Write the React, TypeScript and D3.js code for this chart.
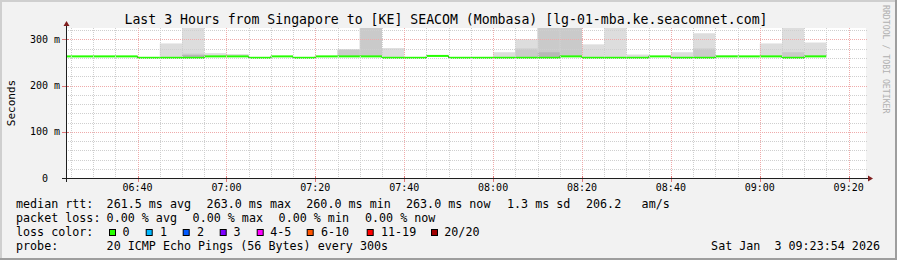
import React from "react";
import * as d3 from "d3";

// ---------- data ----------
const title = "Last 3 Hours from Singapore to [KE] SEACOM (Mombasa) [lg-01-mba.ke.seacomnet.com]";
const rangeStart = "06:23:54";
const rangeEnd = "09:23:54";

const intervalStarts = [
  "06:20", "06:25", "06:30", "06:35", "06:40", "06:45", "06:50", "06:55",
  "07:00", "07:05", "07:10", "07:15", "07:20", "07:25", "07:30", "07:35",
  "07:40", "07:45", "07:50", "07:55", "08:00", "08:05", "08:10", "08:15",
  "08:20", "08:25", "08:30", "08:35", "08:40", "08:45", "08:50", "08:55",
  "09:00", "09:05", "09:10",
];
// median RTT (ms) per 5-minute step
const medianRtt = [
  263, 263, 263, 263, 260, 260, 260, 263,
  263, 260, 263, 260, 263, 263, 263, 260,
  260, 264, 260, 260, 260, 260, 260, 263,
  260, 260, 260, 263, 260, 260, 263, 263,
  263, 260, 263,
];
// slowest ping (20th of 20)
const pingMax = [
  264, 264, 264, 264, 261, 291, 360, 270,
  268, 261, 264, 261, 264, 279, 360, 281,
  261, 265, 261, 261, 272, 300, 360, 360,
  289, 360, 267, 264, 272, 313, 265, 264,
  291, 360, 293,
];
// 19th of 20
const ping19 = [
  263, 263, 263, 263, 260, 261, 269, 264,
  264, 260, 263, 260, 263, 277, 360, 261,
  260, 264, 260, 260, 261, 280, 360, 360,
  261, 261, 261, 263, 262, 280, 264, 263,
  264, 272, 265,
];
// 18th of 20
const ping18 = [
  263, 263, 263, 263, 260, 260, 266, 263,
  263, 260, 263, 260, 263, 264, 264, 260,
  260, 264, 260, 260, 260, 261, 272, 264,
  260, 260, 260, 263, 260, 261, 263, 263,
  263, 261, 264,
];

const xTickLabels = ["06:40", "07:00", "07:20", "07:40", "08:00", "08:20", "08:40", "09:00", "09:20"];
const yTickValues = [0, 100, 200, 300];
const yTickLabels = ["0\u00a0\u00a0", "100 m", "200 m", "300 m"];
const yMax = 324.4;

const legendRow1 = ["median rtt:", "261.5 ms avg", "263.0 ms max", "260.0 ms min", "263.0 ms now", "1.3 ms sd", "206.2", "am/s"];
const legendRow2 = ["packet loss:", "0.00 % avg", "0.00 % max", "0.00 % min", "0.00 % now"];
const lossLabels = ["0", "1", "2", "3", "4-5", "6-10", "11-19", "20/20"];
const lossColors = ["#26ff00", "#00b8ff", "#0059ff", "#7e00ff", "#ff00ff", "#ff5500", "#ff0000", "#a00000"];
const probeText = "20 ICMP Echo Pings (56 Bytes) every 300s";
const dateText = "Sat Jan  3 09:23:54 2026";
const watermark = "RRDTOOL / TOBI OETIKER";

// ---------- layout ----------
const W = 897, H = 260;
const PL = 66, PR = 866, PT = 28, PB = 178;
const FONT = "'DejaVu Sans Mono', monospace";
const row1X = [16, 106.6, 206.6, 306.3, 406, 507, 586, 641.6];
const row2X = [16, 106.6, 192.6, 278.6, 365];
const boxX = [109, 145.7, 182.7, 219.7, 256.7, 306.7, 366.7, 431];
const lossLabelX = [122.6, 160, 197, 233.6, 270.3, 321, 381, 444.3];
const rowY = [208.3, 222.3, 236.3, 250];

const parseT = (s: string) => {
  const [h, m, sec] = s.split(":").map(Number);
  return new Date(2026, 0, 3, h, m, sec || 0);
};

const pre = (s: string) => s.replace(/ /g, "\u00a0");

export default function App() {
  const x = d3.scaleTime().domain([parseT(rangeStart), parseT(rangeEnd)]).range([PL, PR]);
  const y = d3.scaleLinear().domain([0, yMax]).range([PB, PT]);

  const steps = intervalStarts.map((s, i) => {
    const t0 = parseT(s);
    const t1 = d3.timeMinute.offset(t0, 5);
    return {
      x0: Math.max(PL, x(t0)),
      x1: x(t1),
      med: medianRtt[i],
      max: pingMax[i],
      p19: ping19[i],
      p18: ping18[i],
    };
  });

  const minorX = d3.timeMinute.every(5)!.range(parseT(rangeStart), parseT(rangeEnd));
  const majorTimes = xTickLabels.map(parseT);
  const majorSet = new Set(majorTimes.map((d) => d.getTime()));
  const minorY = d3.range(20, yMax, 20).filter((v) => v % 100 !== 0);
  const px = (v: number) => Math.round(v) + 0.5;

  const smokeRect = (d: any, top: number, fill: string, key: string) => {
    const yt = y(Math.min(top, yMax + 5));
    const yb = y(d.med);
    if (yb - yt <= 0.2) return null;
    return <rect key={key} x={d.x0} y={yt} width={d.x1 - d.x0} height={yb - yt} fill={fill} />;
  };

  return (
    <svg width={W} height={H} style={{ position: "absolute", left: 0, top: 0, display: "block" }}
      xmlns="http://www.w3.org/2000/svg">
      <defs>
        <clipPath id="plotClip">
          <rect x={PL} y={PT} width={PR - PL} height={PB - PT} />
        </clipPath>
      </defs>
      {/* background and 3D border */}
      <rect x={0} y={0} width={W} height={H} fill="#f2f2f2" />
      <rect x={0} y={0} width={W} height={2} fill="#cfcfcf" />
      <rect x={0} y={0} width={2} height={H} fill="#cfcfcf" />
      <rect x={0} y={H - 2} width={W} height={2} fill="#9e9e9e" />
      <rect x={W - 2} y={0} width={2} height={H} fill="#9e9e9e" />

      {/* canvas */}
      <rect x={PL} y={PT} width={PR - PL} height={PB - PT} fill="#ffffff" />

      {/* smoke */}
      <g clipPath="url(#plotClip)">
        {steps.map((d, i) => smokeRect(d, d.max, "#dddddd", "a" + i))}
        {steps.map((d, i) => smokeRect(d, d.p19, "#cacaca", "b" + i))}
        {steps.map((d, i) => smokeRect(d, d.p18, "#b7b7b7", "c" + i))}
      </g>

      {/* median line */}
      <g clipPath="url(#plotClip)">
        {steps.map((d, i) =>
          i > 0 && steps[i - 1].med !== d.med ? (
            <line key={"v" + i} x1={d.x0} x2={d.x0} y1={y(steps[i - 1].med)} y2={y(d.med)}
              stroke="#333" strokeWidth={1.2} />
          ) : null
        )}
        {steps.map((d, i) => (
          <line key={"m" + i} x1={d.x0} x2={d.x1} y1={y(d.med)} y2={y(d.med)} stroke="#26ff00" strokeWidth={2} />
        ))}
      </g>

      {/* grid */}
      <g>
        {minorY.map((v) => (
          <line key={"gy" + v} x1={PL} x2={PR + 1} y1={px(y(v))} y2={px(y(v))}
            stroke="#cfcfcf" strokeWidth={1} strokeDasharray="1,1" />
        ))}
        {minorX.filter((t) => !majorSet.has(t.getTime())).map((t) => (
          <line key={"gx" + t.getTime()} x1={px(x(t))} x2={px(x(t))} y1={PT} y2={PB}
            stroke="#cfcfcf" strokeWidth={1} strokeDasharray="1,1" />
        ))}
        {yTickValues.filter((v) => v > 0).map((v) => (
          <line key={"My" + v} x1={PL} x2={PR + 1} y1={px(y(v))} y2={px(y(v))}
            stroke="#efabab" strokeWidth={1} strokeDasharray="1,1" />
        ))}
        {majorTimes.map((t) => (
          <line key={"Mx" + t.getTime()} x1={px(x(t))} x2={px(x(t))} y1={PT} y2={PB}
            stroke="#efabab" strokeWidth={1} strokeDasharray="1,1" />
        ))}
        {/* tick marks */}
        {majorTimes.map((t) => (
          <line key={"tx" + t.getTime()} x1={px(x(t))} x2={px(x(t))} y1={PB - 2} y2={PB + 4}
            stroke="#e07777" strokeWidth={1} />
        ))}
        {yTickValues.filter((v) => v > 0).map((v) => (
          <line key={"ty" + v} x1={PL - 4} x2={PL + 3} y1={px(y(v))} y2={px(y(v))}
            stroke="#e07777" strokeWidth={1} />
        ))}
      </g>

      {/* axes */}
      <line x1={PL - 4} x2={PR + 2} y1={PB + 0.5} y2={PB + 0.5} stroke="#1f1f1f" strokeWidth={1} />
      <polygon points={`${PR + 2},${PB - 2.5} ${PR + 2},${PB + 3.5} ${PR + 7},${PB + 0.5}`} fill="#801f1f" />
      <line x1={PL + 0.5} x2={PL + 0.5} y1={PB + 4} y2={PT - 2} stroke="#1f1f1f" strokeWidth={1} />
      <polygon points={`${PL - 2.5},${PT - 2} ${PL + 3.5},${PT - 2} ${PL + 0.5},${PT - 7}`} fill="#801f1f" />

      {/* axis labels */}
      <g fontFamily={FONT} fontSize={10} fill="#000">
        {yTickValues.map((v, i) => (
          <text key={"yl" + v} x={60} y={y(v) + 3.6} textAnchor="end">{yTickLabels[i]}</text>
        ))}
        {majorTimes.map((t, i) => (
          <text key={"xl" + i} x={x(t)} y={191.3} textAnchor="middle">{d3.timeFormat("%H:%M")(t)}</text>
        ))}
      </g>
      <text transform="translate(14.5,103) rotate(-90)" textAnchor="middle" fontFamily={FONT} fontSize={11} fill="#000">Seconds</text>

      {/* title */}
      <text x={446} y={23.6} textAnchor="middle" fontFamily={FONT} fontSize={13.2} fill="#000">{title}</text>

      {/* watermark */}
      <text transform="translate(883,5) rotate(90)" fontFamily={FONT} fontSize={8.2} fill="#b0b0b0">{watermark}</text>

      {/* legend */}
      <g fontFamily={FONT} fontSize={11.7} fill="#000">
        {legendRow1.map((s, i) => (
          <text key={"r1" + i} x={row1X[i]} y={rowY[0]}>{pre(s)}</text>
        ))}
        {legendRow2.map((s, i) => (
          <text key={"r2" + i} x={row2X[i]} y={rowY[1]}>{pre(s)}</text>
        ))}
        <text x={16} y={rowY[2]}>{pre("loss color:")}</text>
        {lossLabels.map((s, i) => (
          <g key={"lc" + i}>
            <rect x={boxX[i] + 0.5} y={229.5} width={6} height={6} fill={lossColors[i]} stroke="#000" strokeWidth={1} />
            <text x={lossLabelX[i]} y={rowY[2]}>{s}</text>
          </g>
        ))}
        <text x={16} y={rowY[3]}>probe:</text>
        <text x={106.6} y={rowY[3]}>{pre(probeText)}</text>
        <text x={880} y={rowY[3]} textAnchor="end">{pre(dateText)}</text>
      </g>
    </svg>
  );
}
